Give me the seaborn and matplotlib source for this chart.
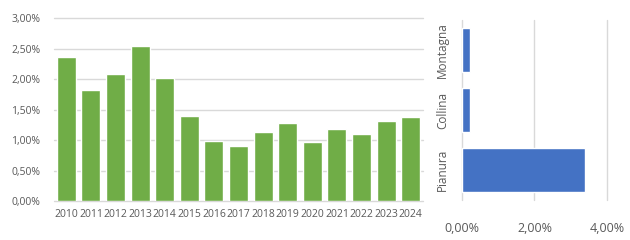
import matplotlib
matplotlib.use("Agg")
import matplotlib.pyplot as plt
import seaborn as sns
import pandas as pd
from matplotlib.ticker import FuncFormatter, MultipleLocator, FixedLocator

years = ["2010", "2011", "2012", "2013", "2014", "2015", "2016", "2017",
         "2018", "2019", "2020", "2021", "2022", "2023", "2024"]
year_values = [2.36, 1.82, 2.08, 2.54, 2.02, 1.39, 0.98, 0.90,
               1.13, 1.28, 0.97, 1.18, 1.10, 1.31, 1.38]

zones = ["Montagna", "Collina", "Pianura"]
zone_values = [0.22, 0.22, 3.40]
zone_ticks = [0.0, 2.0, 4.0]

sns.set_theme(style="white")
plt.rcParams['font.family'] = ['Open Sans', 'DejaVu Sans']

TEXT = "#595959"
GRID = "#D9D9D9"
GREEN = "#70AD47"
BLUE = "#4472C4"

def pct(v, pos):
    return f"{v:.2f}".replace(".", ",") + "%"

fig = plt.figure(figsize=(6.3, 2.4), dpi=100)

ax1 = fig.add_axes([54/630, 39/240, 369/630, 183/240])
df1 = pd.DataFrame({"year": years, "value": year_values})
sns.barplot(data=df1, x="year", y="value", color=GREEN, width=0.77,
            saturation=1, ax=ax1)
ax1.set_ylim(0, 3.0)
ax1.set_xlim(-0.5, len(years) - 0.5)
ax1.yaxis.set_major_locator(MultipleLocator(0.5))
ax1.yaxis.set_major_formatter(FuncFormatter(pct))
ax1.grid(axis="y", color=GRID, linewidth=1)
for gl in ax1.get_ygridlines():
    gl.set_clip_on(False)
ax1.set_axisbelow(True)
for s in ax1.spines.values():
    s.set_visible(False)
ax1.set_xlabel("")
ax1.set_ylabel("")
ax1.tick_params(axis="both", length=0, labelsize=7.5, colors=TEXT)
ax1.tick_params(axis="x", pad=6)
ax1.tick_params(axis="y", pad=10)

ax2 = fig.add_axes([462/630, 40/240, 145/630, 180/240])
df2 = pd.DataFrame({"zone": zones, "value": zone_values})
sns.barplot(data=df2, y="zone", x="value", color=BLUE, width=0.73,
            saturation=1, orient="h", ax=ax2)
ax2.set_xlim(0, 4.0)
ax2.set_ylim(len(zones) - 0.5, -0.5)
ax2.xaxis.set_major_locator(FixedLocator(zone_ticks))
ax2.xaxis.set_major_formatter(FuncFormatter(pct))
ax2.grid(axis="x", color=GRID, linewidth=1)
for gl in ax2.get_xgridlines():
    gl.set_clip_on(False)
ax2.set_axisbelow(True)
for s in ax2.spines.values():
    s.set_visible(False)
ax2.set_xlabel("")
ax2.set_ylabel("")
ax2.tick_params(axis="both", length=0, colors=TEXT)
ax2.tick_params(axis="x", pad=16, labelsize=9)
ax2.tick_params(axis="y", pad=14, labelsize=8.5)
for lab in ax2.get_yticklabels():
    lab.set_rotation(90)
    lab.set_va("center")
    lab.set_ha("center")

fig.savefig("out.png", dpi=100, facecolor="white")
